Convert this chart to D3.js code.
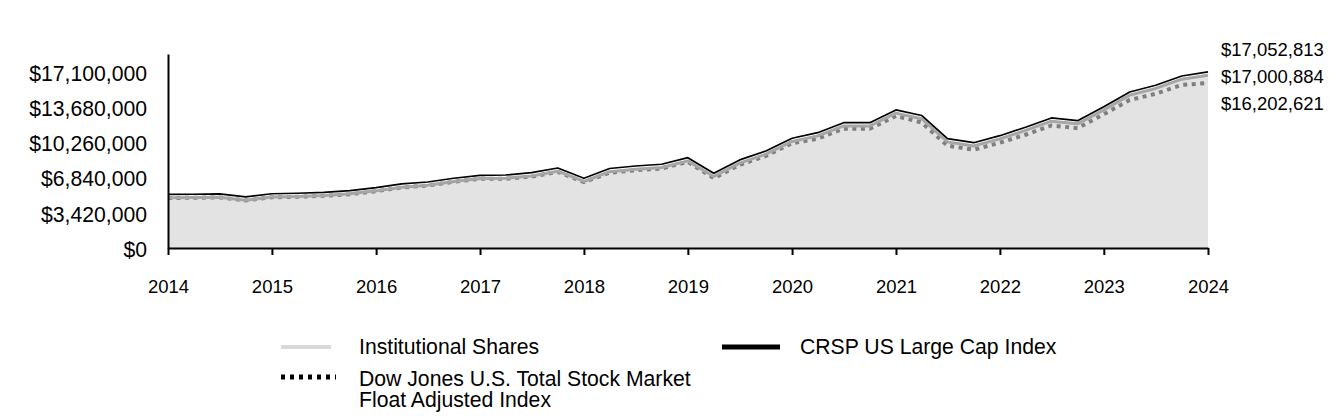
<!DOCTYPE html>
<html>
<head>
<meta charset="utf-8">
<script src="https://cdn.jsdelivr.net/npm/d3@7"></script>
<style>
  body { margin: 0; background: #fff; }
  svg { display: block; font-family: "Liberation Sans", Arial, sans-serif; }
</style>
</head>
<body>
<svg id="chart" width="1344" height="420"></svg>
<script>
// quarter ends, Dec 2014 .. Dec 2024
const dates = [
  "2014-12-31", "2015-03-31", "2015-06-30", "2015-09-30", "2015-12-31",
  "2016-03-31", "2016-06-30", "2016-09-30", "2016-12-31",
  "2017-03-31", "2017-06-30", "2017-09-30", "2017-12-31",
  "2018-03-31", "2018-06-30", "2018-09-30", "2018-12-31",
  "2019-03-31", "2019-06-30", "2019-09-30", "2019-12-31",
  "2020-03-31", "2020-06-30", "2020-09-30", "2020-12-31",
  "2021-03-31", "2021-06-30", "2021-09-30", "2021-12-31",
  "2022-03-31", "2022-06-30", "2022-09-30", "2022-12-31",
  "2023-03-31", "2023-06-30", "2023-09-30", "2023-12-31",
  "2024-03-31", "2024-06-30", "2024-09-30", "2024-12-31"
];

// values in $ millions
const crsp = [
  5.19, 5.21, 5.24, 4.95, 5.26, 5.31, 5.40, 5.56, 5.85,
  6.21, 6.40, 6.76, 7.05, 7.08, 7.30, 7.76, 6.76,
  7.71, 7.95, 8.12, 8.76, 7.25, 8.54, 9.41, 10.64,
  11.18, 12.15, 12.15, 13.39, 12.85, 10.60, 10.21, 10.89,
  11.71, 12.61, 12.35, 13.70, 15.13, 15.78, 16.68, 17.07
];
const institutional = [
  4.88, 4.90, 4.93, 4.64, 4.95, 5.00, 5.09, 5.25, 5.54,
  5.90, 6.09, 6.45, 6.74, 6.77, 6.99, 7.45, 6.45,
  7.40, 7.64, 7.81, 8.45, 6.94, 8.23, 9.10, 10.33,
  10.87, 11.84, 11.84, 13.08, 12.54, 10.29, 9.90, 10.58,
  11.40, 12.30, 12.04, 13.39, 14.82, 15.47, 16.37, 16.76
];
const dowJones = [
  4.85, 4.87, 4.90, 4.61, 4.92, 4.97, 5.06, 5.22, 5.51,
  5.87, 6.06, 6.42, 6.71, 6.71, 6.93, 7.39, 6.39,
  7.30, 7.54, 7.71, 8.35, 6.77, 8.06, 8.93, 10.16,
  10.60, 11.57, 11.57, 12.81, 12.17, 9.92, 9.53, 10.21,
  10.98, 11.88, 11.62, 12.97, 14.35, 14.96, 15.81, 16.00
];

const yTicks = [0, 3420000, 6840000, 10260000, 13680000, 17100000];
const yMax = 18810000;
const endValues = [17052813, 17000884, 16202621];

const seriesNames = [
  "Institutional Shares",
  "CRSP US Large Cap Index",
  "Dow Jones U.S. Total Stock Market Float Adjusted Index"
];

const parse = d3.timeParse("%Y-%m-%d");
const dd = dates.map(parse);
const toRows = (arr) => arr.map((v, i) => ({ date: dd[i], value: v * 1e6 }));

const svg = d3.select("#chart");
const smallFont = "18.5px";
const bigFont = "21.2px";

const x = d3.scaleTime().domain([dd[0], dd[dd.length - 1]]).range([168, 1208]);
const y = d3.scaleLinear().domain([0, yMax]).range([248, 54]);

const line = d3.line().x((d) => x(d.date)).y((d) => y(d.value));
const area = d3.area().x((d) => x(d.date)).y0(y(0)).y1((d) => y(d.value));

// shaded area under the fund line
svg.append("path")
  .datum(toRows(institutional))
  .attr("d", area)
  .attr("fill", "#e3e3e3");

svg.append("path")
  .datum(toRows(dowJones))
  .attr("d", line)
  .attr("fill", "none")
  .attr("stroke", "#7f7f7f")
  .attr("stroke-width", 4)
  .attr("stroke-dasharray", "4,4.5");

svg.append("path")
  .datum(toRows(institutional))
  .attr("d", line)
  .attr("fill", "none")
  .attr("stroke", "#a6a6a6")
  .attr("stroke-width", 3)
  .attr("stroke-linejoin", "round");

svg.append("path")
  .datum(toRows(crsp))
  .attr("d", line)
  .attr("fill", "none")
  .attr("stroke", "#000")
  .attr("stroke-width", 1.7)
  .attr("stroke-linejoin", "round");

// axes
const yAxis = svg.append("g")
  .attr("transform", "translate(168,0)")
  .call(d3.axisLeft(y).tickValues(yTicks).tickSize(0).tickPadding(21)
    .tickFormat((d) => "$" + d3.format(",")(d)));
yAxis.select(".domain").attr("stroke", "#000").attr("stroke-width", 2);
yAxis.selectAll("text")
  .attr("font-size", bigFont)
  .attr("font-family", "Liberation Sans, Arial, sans-serif")
  .attr("fill", "#000")
  .attr("dy", "0.4em");

const yearTicks = dd.filter((d, i) => i % 4 === 0);
const xAxis = svg.append("g")
  .attr("transform", "translate(0,248)")
  .call(d3.axisBottom(x).tickValues(yearTicks).tickSize(7).tickSizeOuter(0)
    .tickPadding(25).tickFormat(d3.timeFormat("%Y")));
xAxis.select(".domain").attr("stroke", "#000").attr("stroke-width", 2);
xAxis.selectAll(".tick line").attr("stroke", "#000").attr("stroke-width", 2);
xAxis.selectAll("text")
  .attr("font-size", smallFont)
  .attr("font-family", "Liberation Sans, Arial, sans-serif")
  .attr("fill", "#000");

// ending values at right
const endY = [50, 77, 104];
svg.selectAll(".end-label")
  .data(endValues)
  .enter()
  .append("text")
  .attr("class", "end-label")
  .attr("x", 1221)
  .attr("y", (d, i) => endY[i])
  .attr("dy", "0.35em")
  .attr("font-size", smallFont)
  .text((d) => "$" + d3.format(",")(d));

// legend
const legend = svg.append("g");
legend.append("line")
  .attr("x1", 281).attr("x2", 331).attr("y1", 347).attr("y2", 347)
  .attr("stroke", "#d9d9d9").attr("stroke-width", 4);
legend.append("text")
  .attr("x", 359).attr("y", 347).attr("dy", "0.35em")
  .attr("font-size", bigFont)
  .text(seriesNames[0]);

legend.append("line")
  .attr("x1", 722).attr("x2", 780).attr("y1", 347).attr("y2", 347)
  .attr("stroke", "#000").attr("stroke-width", 5);
legend.append("text")
  .attr("x", 800).attr("y", 347).attr("dy", "0.35em")
  .attr("font-size", bigFont)
  .text(seriesNames[1]);

legend.append("line")
  .attr("x1", 281).attr("x2", 336).attr("y1", 377).attr("y2", 377)
  .attr("stroke", "#000").attr("stroke-width", 5)
  .attr("stroke-dasharray", "4,5");
legend.append("text")
  .attr("x", 359).attr("y", 379).attr("dy", "0.35em")
  .attr("font-size", bigFont)
  .text("Dow Jones U.S. Total Stock Market");
legend.append("text")
  .attr("x", 359).attr("y", 400).attr("dy", "0.35em")
  .attr("font-size", bigFont)
  .text("Float Adjusted Index");
</script>
</body>
</html>
